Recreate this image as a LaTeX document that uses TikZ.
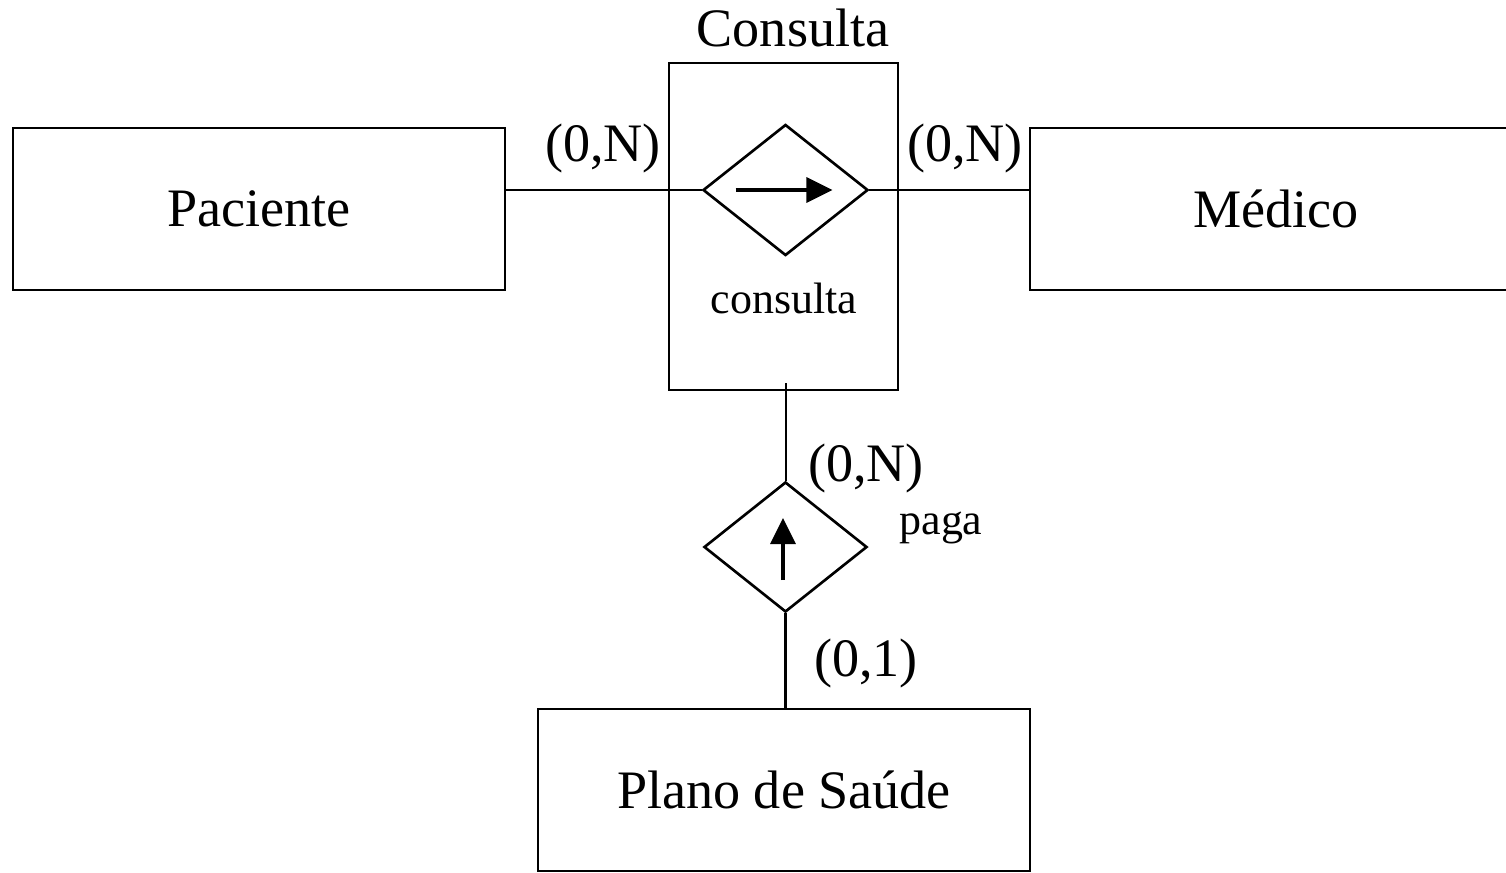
\documentclass[tikz,border=0pt]{standalone}
\usepackage{fontspec}
\setmainfont{Liberation Serif}
\usetikzlibrary{shapes.geometric,arrows.meta,calc}
\newcommand{\bigf}{\fontsize{15.4pt}{18pt}\selectfont}
\newcommand{\smallf}{\fontsize{12.5pt}{15pt}\selectfont}
\begin{document}
\begin{tikzpicture}[x=0.01cm,y=-0.01cm,
  entity/.style={draw,line width=0.7pt,inner sep=0pt,minimum width=4.92cm,minimum height=1.62cm,font=\bigf},
  rel/.style={draw,diamond,line width=0.75pt,inner sep=0pt},
  lbl/.style={inner sep=0pt,font=\bigf},
  slbl/.style={inner sep=0pt,font=\smallf},
  conn/.style={line width=0.65pt},
  tip/.style={line width=0.9pt,-{Triangle[length=0.26cm,width=0.25cm]}}]
\useasboundingbox (0,0) rectangle (1506,872);
% entities
\node[entity] (pac) at (259,209) {Paciente};
\node[entity] (med) at (1276,209) {Médico};
\node[entity] (plano) at (784,790) {Plano de Saúde};
% aggregation box
\node[draw,line width=0.65pt,inner sep=0pt,minimum width=2.29cm,minimum height=3.27cm] (cbox) at (783.5,226.5) {};
\node[lbl] (ctitle) at (793,28) {Consulta};
% relationship consulta
\node[rel,minimum width=1.65cm,minimum height=1.31cm] (cons) at (785.5,190) {};
\node[slbl] (consl) at (784,298) {consulta};
\draw[tip] ($(cons.center)+(-50,0)$) -- ($(cons.center)+(47,0)$);
% relationship paga
\node[rel,minimum width=1.63cm,minimum height=1.30cm] (paga) at (785.5,547) {};
\node[slbl] (pagal) at (941,528) {paga};
\draw[tip] ($(paga.center)+(-2.5,33)$) -- ($(paga.center)+(-2.5,-29)$);
% connectors
\draw[conn] (pac.east |- cons.west) -- (cons.west);
\draw[conn] (cons.east) -- (med.west |- cons.east);
\coordinate (cstart) at (786,383);
\draw[conn] (cstart) -- (cstart |- paga.north);
\draw[conn] (paga.south) -- (paga.south |- plano.north);
% cardinalities
\node[lbl] (c1) at (603,148) {(0,N)};
\node[lbl] (c2) at (965,148) {(0,N)};
\node[lbl] (c3) at (866,468) {(0,N)};
\node[lbl] (c4) at (866,663) {(0,1)};
\end{tikzpicture}
\end{document}
